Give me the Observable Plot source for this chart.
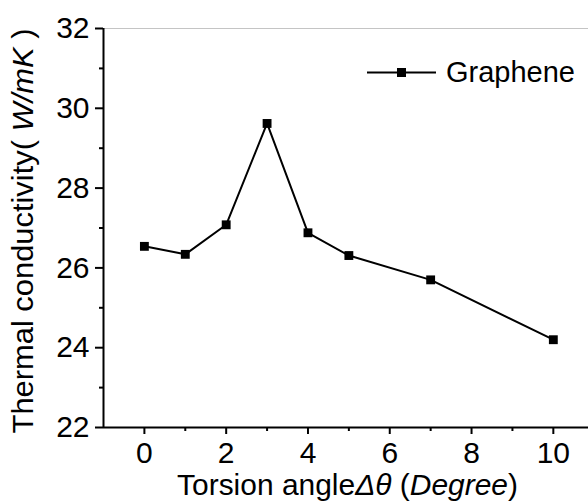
<!DOCTYPE html>
<html><head><meta charset="utf-8">
<script src="https://cdn.jsdelivr.net/npm/d3@7"></script>
<script src="https://cdn.jsdelivr.net/npm/@observablehq/plot@0.6"></script>
<style>body{margin:0;background:#fff} svg{display:block}</style>
</head><body><div id="chart"></div>
<script>
const angles = [0, 1, 2, 3, 4, 5, 7, 10];
const conductivity = [26.54, 26.34, 27.08, 29.62, 26.88, 26.31, 25.70, 24.20];
const xTicks = [0, 2, 4, 6, 8, 10];
const xMinor = [1, 3, 5, 7, 9];
const yTicks = [22, 24, 26, 28, 30, 32];
const yMinor = [23, 25, 27, 29, 31];
const seriesName = "Graphene";
const data = angles.map((a, i) => ({angle: a, k: conductivity[i]}));
const font = "'Liberation Sans', Arial, sans-serif";

const plot = Plot.plot({
  width: 588, height: 504,
  marginLeft: 103, marginRight: 0, marginTop: 28, marginBottom: 77,
  style: {fontFamily: font, background: "#fff", color: "#000", overflow: "visible"},
  x: {domain: [-1, 10.86]},
  y: {domain: [22, 32]},
  marks: [
    Plot.ruleY([32], {stroke: "#c4c4c4", strokeWidth: 1.2}),
    Plot.axisX(xTicks, {tickSize: 7, tickPadding: 7, fontSize: 30, strokeWidth: 2, label: null}),
    Plot.axisX(xMinor, {tickSize: 4, text: null, strokeWidth: 2, label: null}),
    Plot.axisY(yTicks, {tickSize: 8, tickPadding: 6, fontSize: 30, strokeWidth: 2, label: null}),
    Plot.axisY(yMinor, {tickSize: 4, text: null, strokeWidth: 2, label: null}),
    Plot.ruleX([-1], {strokeWidth: 2}),
    Plot.ruleY([22], {strokeWidth: 2}),
    Plot.line(data, {x: "angle", y: "k", stroke: "#000", strokeWidth: 2}),
    Plot.dot(data, {x: "angle", y: "k", symbol: "square", fill: "#000", r: 5})
  ]
});
document.getElementById("chart").append(plot);

const svg = d3.select(plot);

function fitWidth(sel, target, cx, cy, rot) {
  const w = sel.node().getComputedTextLength();
  const s = target / w;
  sel.attr("transform", `translate(${cx},${cy})${rot ? " rotate(-90)" : ""} scale(${s},1)`);
}
// Y axis label
const yl = svg.append("text")
  .attr("text-anchor", "middle")
  .attr("font-size", 30).attr("font-family", font).attr("fill", "#000");
yl.append("tspan").text("Thermal conductivity(");
yl.append("tspan").attr("font-style", "italic").text(" W/mK");
yl.append("tspan").text(" )");
fitWidth(yl, 405, 33, 231, true);
// X axis label
const xl = svg.append("text")
  .attr("text-anchor", "middle")
  .attr("font-size", 30).attr("font-family", font).attr("fill", "#000");
xl.append("tspan").text("Torsion angle");
xl.append("tspan").attr("font-style", "italic").text("Δθ");
xl.append("tspan").text(" (");
xl.append("tspan").attr("font-style", "italic").text("Degree");
xl.append("tspan").text(")");
fitWidth(xl, 341, 347.5, 495, false);
// Legend
const lg = svg.append("g");
lg.append("line").attr("x1", 367).attr("x2", 436).attr("y1", 72.5).attr("y2", 72.5)
  .attr("stroke", "#000").attr("stroke-width", 2);
lg.append("rect").attr("x", 397).attr("y", 68).attr("width", 9).attr("height", 9).attr("fill", "#000");
lg.append("text").attr("x", 446).attr("y", 82).attr("font-size", 29).attr("text-anchor", "start")
  .attr("font-family", font).attr("fill", "#000").text(seriesName);
</script>
</body></html>
